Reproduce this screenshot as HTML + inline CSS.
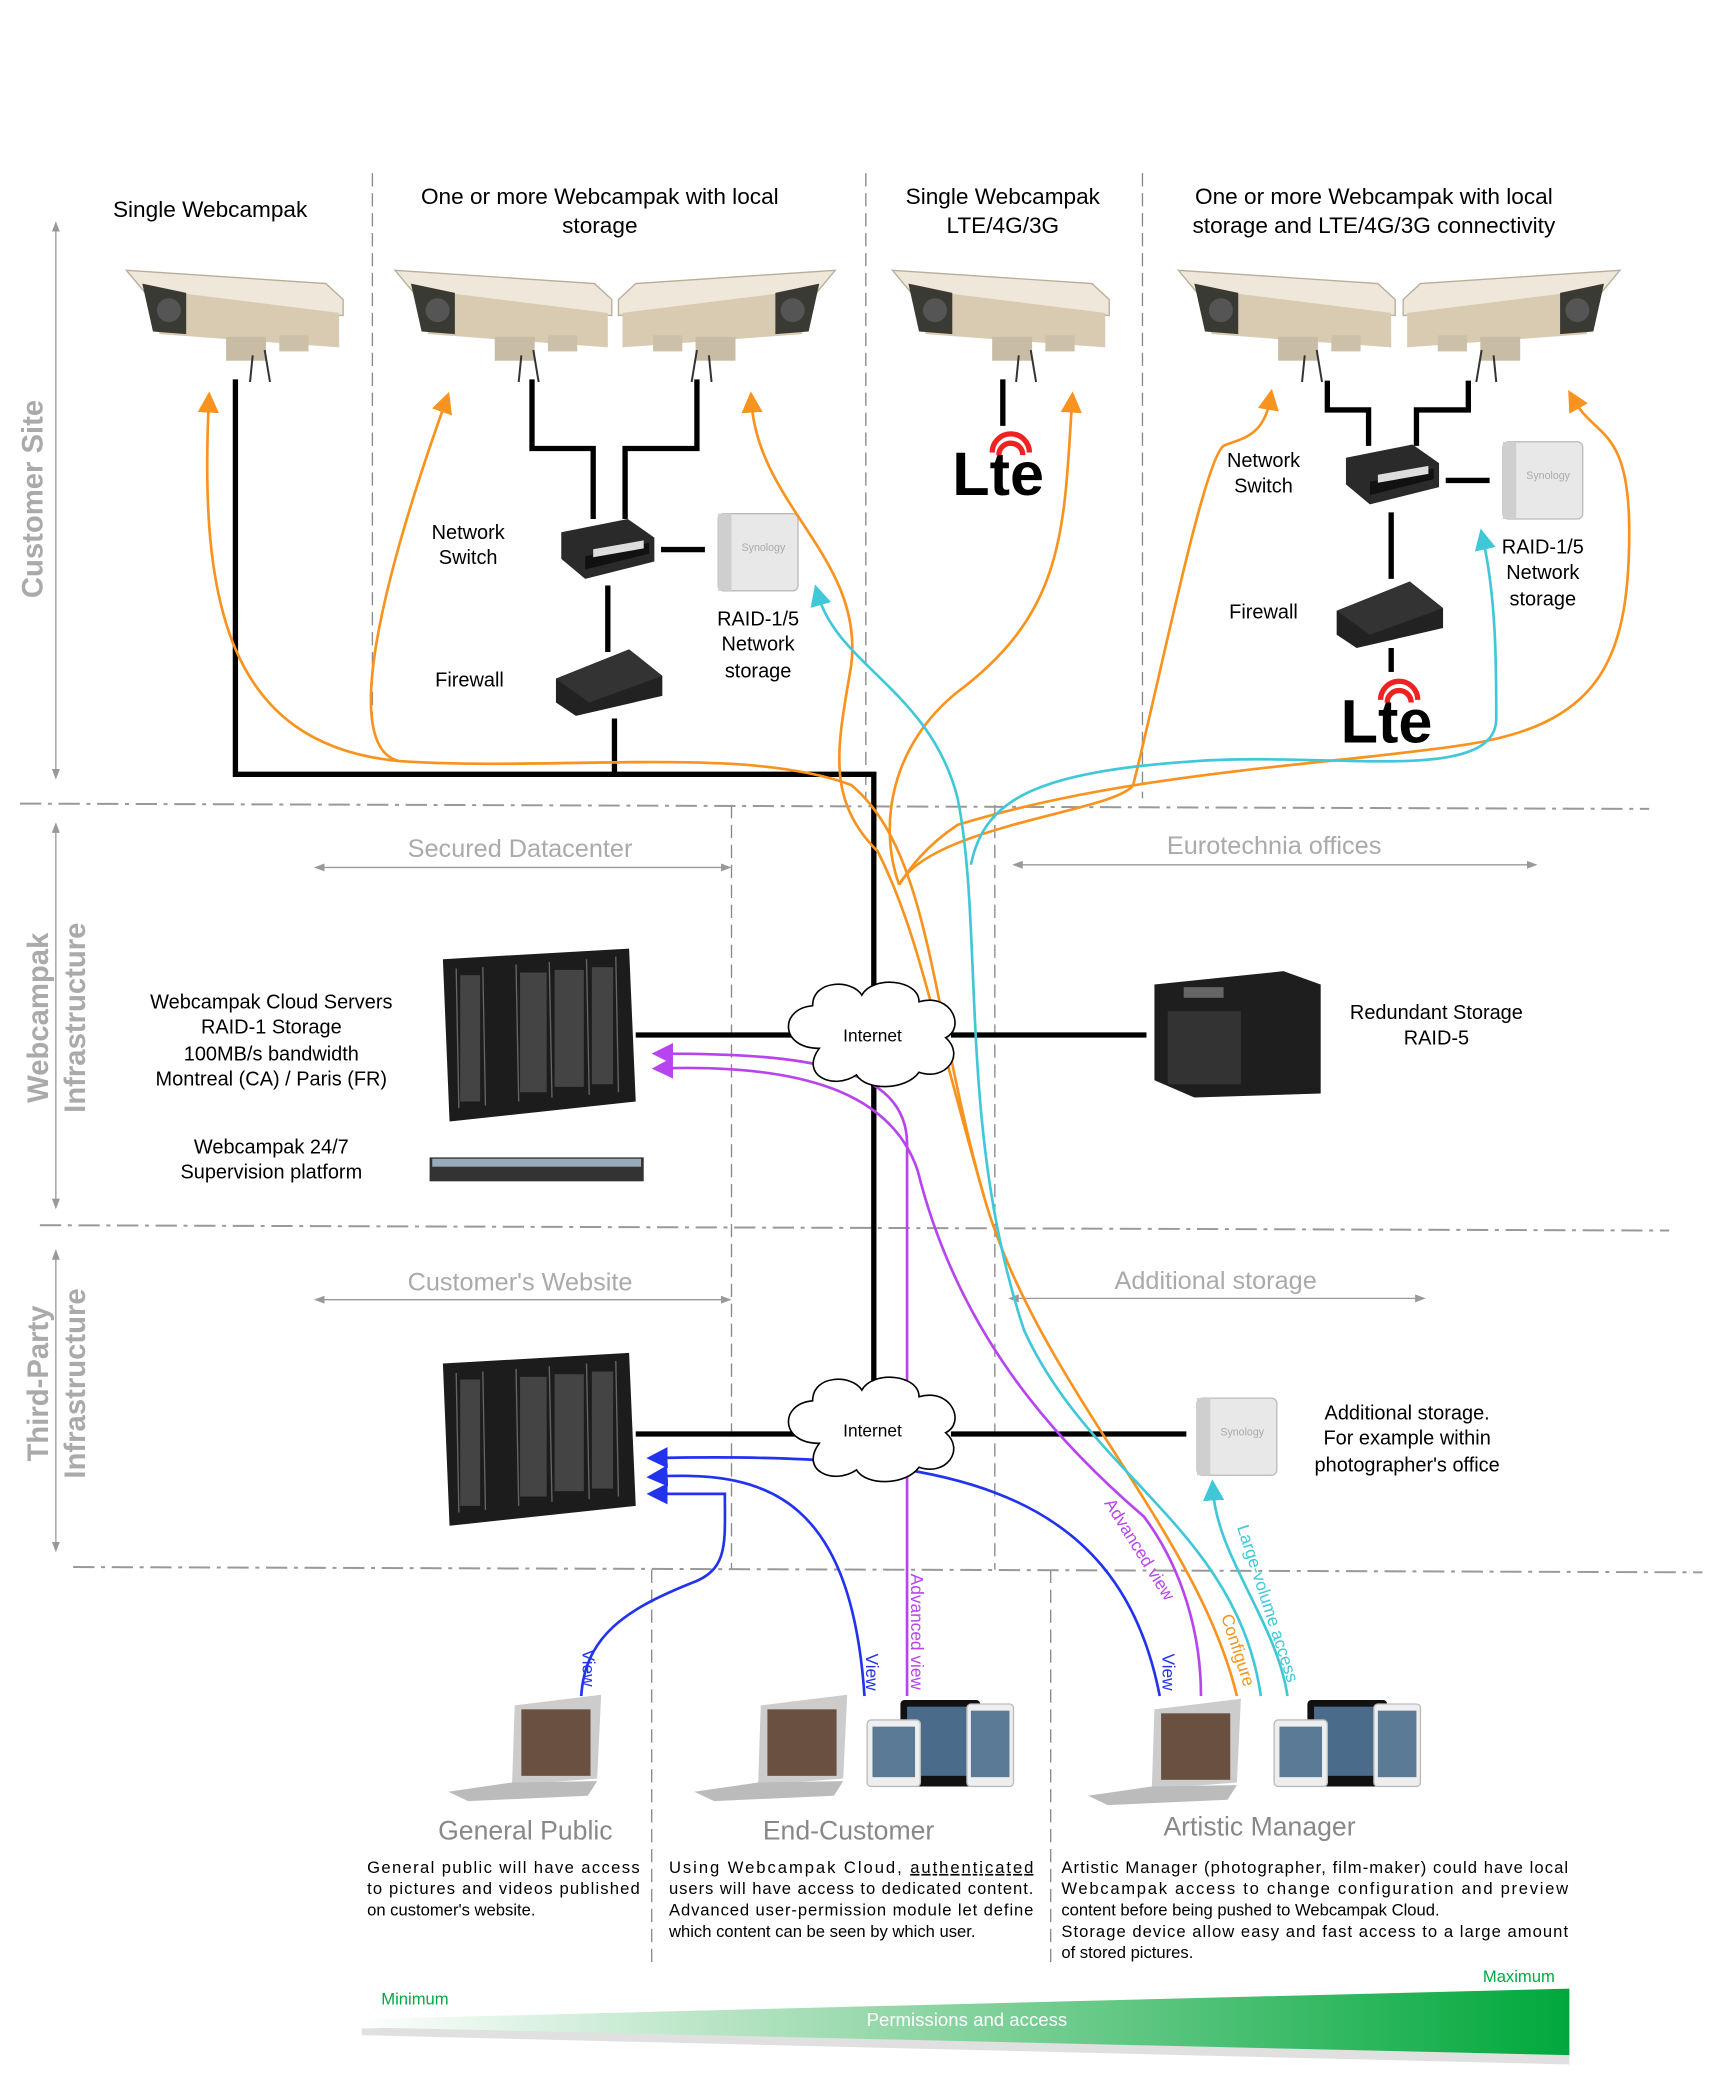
<!DOCTYPE html>
<html><head><meta charset="utf-8"><style>
html,body{margin:0;padding:0;background:#fff}
svg{display:block}
text{font-family:"Liberation Sans",sans-serif}
</style></head><body>
<svg width="1729" height="2090" viewBox="0 0 1300 1571" xmlns="http://www.w3.org/2000/svg">
<defs>
<g id="cam">
 <polygon points="0,8 150,18 163,30 163,42 20,32" fill="#efe8da" stroke="#b8ad98" stroke-width="1"/>
 <polygon points="15,22 160,40 160,66 25,56" fill="#d8cbb2"/>
 <polygon points="12,18 45,25 45,56 20,54" fill="#3a3a35"/>
 <circle cx="32" cy="38" r="9" fill="#555"/>
 <rect x="75" y="58" width="30" height="18" fill="#c8bca4"/>
 <line x1="95" y1="72" x2="93" y2="92" stroke="#333" stroke-width="1.5"/>
 <line x1="104" y1="68" x2="108" y2="92" stroke="#333" stroke-width="1.5"/>
 <rect x="115" y="57" width="22" height="12" fill="#ccc0a8"/>
</g>
<g id="sw"><polygon points="0,10 50,0 70,14 70,32 18,45 0,30" fill="#2a2a2a"/><polygon points="18,28 66,18 66,26 18,38" fill="#111"/><rect x="24" y="27" width="38" height="6" fill="#ddd" transform="skewY(-10)"/></g>
<g id="fw"><polygon points="0,22 55,0 80,20 80,35 15,50 0,40" fill="#222"/><polygon points="0,22 55,0 80,20 25,40" fill="#333"/></g>
<g id="nas"><rect x="0" y="0" width="60" height="58" rx="4" fill="#e8e8e8" stroke="#bbb"/><rect x="0" y="0" width="10" height="58" fill="#cfcfcf"/><text x="34" y="28" font-size="8" fill="#aaa" text-anchor="middle">Synology</text></g>
<g id="rack">
 <polygon points="0,8 140,0 145,115 5,130" fill="#1c1c1c"/>
 <g stroke="#666" stroke-width="1">
  <line x1="10" y1="15" x2="12" y2="120"/><line x1="30" y1="14" x2="32" y2="118"/><line x1="55" y1="12" x2="57" y2="115"/><line x1="80" y1="10" x2="82" y2="112"/><line x1="108" y1="8" x2="110" y2="110"/><line x1="130" y1="6" x2="132" y2="108"/>
 </g>
 <g fill="#444"><rect x="13" y="20" width="15" height="95"/><rect x="58" y="18" width="20" height="90"/><rect x="84" y="16" width="22" height="88"/><rect x="112" y="14" width="16" height="88"/></g>
</g>
<g id="cloud"><path d="M-40,10 C-70,10 -70,-20 -45,-22 C-45,-42 -15,-42 -8,-30 C0,-45 35,-42 35,-25 C60,-32 70,-5 55,2 C70,15 55,35 35,28 C25,42 -5,42 -12,30 C-30,42 -55,30 -40,10Z" fill="#fff" stroke="#000" stroke-width="1.2"/></g>
<g id="lap"><polygon points="50,0 115,-8 112,55 48,60" fill="#ccc"/><rect x="55" y="3" width="52" height="50" fill="#6a5040"/><polygon points="0,65 48,58 112,57 105,68 15,72" fill="#bbb"/></g>
<g id="tab"><rect x="25" y="0" width="60" height="65" rx="3" fill="#111"/><rect x="30" y="5" width="50" height="52" fill="#4a6c8a"/><rect x="0" y="15" width="40" height="50" rx="3" fill="#eee" stroke="#bbb"/><rect x="4" y="20" width="32" height="38" fill="#5a7a95"/><rect x="75" y="3" width="35" height="62" rx="3" fill="#eee" stroke="#bbb"/><rect x="78" y="8" width="29" height="50" fill="#5a7a95"/></g>
<g id="lte"><text x="0" y="50" font-size="46" font-weight="bold" fill="#000" font-family="Liberation Sans">Lte</text><path d="M30,18 a14,14 0 0 1 28,0" fill="none" stroke="#e22" stroke-width="4"/><path d="M35,20 a9,9 0 0 1 18,0" fill="none" stroke="#e22" stroke-width="4"/></g>
<linearGradient id="gr" x1="0" x2="1" y1="0" y2="0"><stop offset="0" stop-color="#fff"/><stop offset="0.4" stop-color="#9edbb0"/><stop offset="1" stop-color="#00a83c"/></linearGradient>
<marker id="ao" markerWidth="8" markerHeight="8" refX="4" refY="4" orient="auto-start-reverse"><path d="M0,0 L8,4 L0,8Z" fill="#f7931e"/></marker>
<marker id="ac" markerWidth="8" markerHeight="8" refX="4" refY="4" orient="auto-start-reverse"><path d="M0,0 L8,4 L0,8Z" fill="#40c8d8"/></marker>
<marker id="ap" markerWidth="8" markerHeight="8" refX="4" refY="4" orient="auto-start-reverse"><path d="M0,0 L8,4 L0,8Z" fill="#b844ee"/></marker>
<marker id="ab" markerWidth="8" markerHeight="8" refX="4" refY="4" orient="auto-start-reverse"><path d="M0,0 L8,4 L0,8Z" fill="#2233ee"/></marker>
<marker id="ag" markerWidth="8" markerHeight="8" refX="4" refY="4" orient="auto-start-reverse"><path d="M0,1 L8,4 L0,7Z" fill="#999"/></marker>
</defs>

<g stroke="#888" stroke-width="1" stroke-dasharray="10,5">
<line x1="280" y1="130" x2="280" y2="545"/><line x1="651" y1="130" x2="651" y2="600"/><line x1="859" y1="130" x2="859" y2="600"/>
<line x1="550" y1="605" x2="550" y2="1180"/><line x1="748" y1="605" x2="748" y2="1180"/>
<line x1="490" y1="1180" x2="490" y2="1475"/><line x1="790" y1="1180" x2="790" y2="1475"/>
</g>
<g stroke="#999" stroke-width="1.5" stroke-dasharray="16,5,3,5">
<line x1="15" y1="604" x2="1240" y2="608"/><line x1="30" y1="921" x2="1255" y2="925"/><line x1="55" y1="1178" x2="1280" y2="1182"/>
</g>
<g stroke="#999" stroke-width="1"><line x1="42" y1="170" x2="42" y2="582" marker-start="url(#ag)" marker-end="url(#ag)"/>
<line x1="42" y1="622" x2="42" y2="905" marker-start="url(#ag)" marker-end="url(#ag)"/>
<line x1="42" y1="943" x2="42" y2="1163" marker-start="url(#ag)" marker-end="url(#ag)"/>
<line x1="240" y1="652" x2="546" y2="652" marker-start="url(#ag)" marker-end="url(#ag)"/>
<line x1="765" y1="650" x2="1152" y2="650" marker-start="url(#ag)" marker-end="url(#ag)"/>
<line x1="240" y1="977" x2="546" y2="977" marker-start="url(#ag)" marker-end="url(#ag)"/>
<line x1="762" y1="976" x2="1068" y2="976" marker-start="url(#ag)" marker-end="url(#ag)"/></g>
<g fill="#aaa" font-weight="bold" font-size="22" text-anchor="middle">
<text transform="translate(32,375) rotate(-90)">Customer Site</text>
<text transform="translate(36,765) rotate(-90)">Webcampak</text>
<text transform="translate(64,765) rotate(-90)">Infrastructure</text>
<text transform="translate(36,1040) rotate(-90)">Third-Party</text>
<text transform="translate(64,1040) rotate(-90)">Infrastructure</text>
</g>
<g fill="#aaa" font-size="19" text-anchor="middle">
<text x="391" y="644">Secured Datacenter</text><text x="958" y="642">Eurotechnia offices</text>
<text x="391" y="970">Customer's Website</text><text x="914" y="969">Additional storage</text>
</g>

<g font-size="17" text-anchor="middle" fill="#000">
<text x="158" y="163">Single Webcampak</text>
<text x="451" y="153">One or more Webcampak with local</text><text x="451" y="175">storage</text>
<text x="754" y="153">Single Webcampak</text><text x="754" y="175">LTE/4G/3G</text>
<text x="1033" y="153">One or more Webcampak with local</text><text x="1033" y="175">storage and LTE/4G/3G connectivity</text>
</g>
<use href="#cam" x="95" y="195"/>
<use href="#cam" x="297" y="195"/>
<use href="#cam" transform="translate(628,195) scale(-1,1)"/>
<use href="#cam" x="671" y="195"/>
<use href="#cam" x="886" y="195"/>
<use href="#cam" transform="translate(1218,195) scale(-1,1)"/>

<g stroke="#000" stroke-width="4" fill="none">
<polyline points="177,285 177,582 657,582 657,1040"/>
<polyline points="400,285 400,337 446,337 446,390"/>
<polyline points="524,285 524,337 470,337 470,390"/>
<line x1="497" y1="413" x2="530" y2="413"/>
<line x1="457" y1="440" x2="457" y2="490"/>
<line x1="462" y1="540" x2="462" y2="582"/>
<line x1="754" y1="285" x2="754" y2="320"/>
<polyline points="998,286 998,308 1029,308 1029,335"/>
<polyline points="1104,286 1104,308 1065,308 1065,335"/>
<line x1="1087" y1="361" x2="1120" y2="361"/>
<line x1="1046" y1="385" x2="1046" y2="435"/>
<line x1="1046" y1="487" x2="1046" y2="505"/>
<line x1="478" y1="778" x2="600" y2="778"/><line x1="715" y1="778" x2="862" y2="778"/>
<line x1="478" y1="1078" x2="600" y2="1078"/><line x1="715" y1="1078" x2="892" y2="1078"/>
</g>
<use href="#sw" x="422" y="390"/><use href="#nas" x="540" y="386"/><use href="#fw" x="418" y="488"/>
<use href="#lte" x="716" y="322"/>
<use href="#sw" x="1012" y="334"/><use href="#nas" x="1130" y="332"/><use href="#fw" x="1005" y="437"/>
<use href="#lte" x="1008" y="508"/>
<g font-size="15" text-anchor="middle" fill="#000">
<text x="352" y="405">Network</text><text x="352" y="424">Switch</text><text x="353" y="516">Firewall</text>
<text x="570" y="470">RAID-1/5</text><text x="570" y="489">Network</text><text x="570" y="509">storage</text>
<text x="950" y="351">Network</text><text x="950" y="370">Switch</text><text x="950" y="465">Firewall</text>
<text x="1160" y="416">RAID-1/5</text><text x="1160" y="435">Network</text><text x="1160" y="455">storage</text>
</g>

<use href="#rack" x="333" y="713"/>
<rect x="323" y="870" width="161" height="18" fill="#333"/><rect x="325" y="871" width="157" height="6" fill="#9ab"/>
<g font-size="15" text-anchor="middle" fill="#000">
<text x="204" y="758">Webcampak Cloud Servers</text><text x="204" y="777">RAID-1 Storage</text><text x="204" y="797">100MB/s bandwidth</text><text x="204" y="816">Montreal (CA) / Paris (FR)</text>
<text x="204" y="867">Webcampak 24/7</text><text x="204" y="886">Supervision platform</text>
<text x="1080" y="766">Redundant Storage</text><text x="1080" y="785">RAID-5</text>
<text x="1058" y="1067">Additional storage.</text><text x="1058" y="1086">For example within</text><text x="1058" y="1106">photographer's office</text>
</g>
<g><polygon points="868,740 965,730 993,740 993,822 898,825 868,812" fill="#1e1e1e"/><rect x="878" y="760" width="55" height="55" fill="#333"/><rect x="890" y="742" width="30" height="8" fill="#666"/></g>
<use href="#rack" x="333" y="1017"/>
<use href="#nas" x="900" y="1051"/>

<g fill="none" stroke-width="2">
<g stroke="#f7931e">
<path d="M157,302 C150,450 170,560 300,572 C420,580 560,560 640,590 C700,640 700,760 740,900 C780,1040 900,1150 930,1275" marker-start="url(#ao)"/>
<path d="M335,302 C300,400 250,560 300,572"  marker-start="url(#ao)"/>
<path d="M565,302 C570,380 650,420 640,500 C630,560 620,600 660,640 C690,700 700,760 740,900" marker-start="url(#ao)"/>
<path d="M806,302 C800,400 800,460 720,520 C670,560 660,620 676,665" marker-start="url(#ao)"/>
<path d="M955,300 C950,330 930,330 920,335 C905,345 870,520 852,590 C840,610 700,620 676,665" marker-start="url(#ao)"/>
<path d="M1183,300 C1200,330 1225,320 1225,400 C1225,500 1200,545 1100,560 C1000,575 850,580 720,620 C690,640 680,660 676,665" marker-start="url(#ao)"/>
</g>
<g stroke="#40c8d8">
<path d="M615,447 C630,500 700,520 720,600 C740,700 720,850 770,1000 C820,1110 930,1150 948,1275" marker-start="url(#ac)"/>
<path d="M1115,405 C1125,450 1125,500 1125,540 C1125,590 1000,565 900,572 C780,580 740,600 730,650" marker-start="url(#ac)"/>
<path d="M912,1120 C915,1170 960,1220 968,1275" marker-start="url(#ac)"/>
</g>
<g stroke="#b844ee">
<path d="M498,792 C600,792 682,800 682,860 L682,1275" marker-start="url(#ap)"/>
<path d="M498,803 C600,800 670,820 690,880 C720,1000 790,1080 860,1140 C890,1180 903,1230 903,1275" marker-start="url(#ap)"/>
</g>
<g stroke="#2233ee">
<path d="M494,1123 L545,1123 C545,1160 548,1180 520,1190 C470,1210 440,1230 437,1275" marker-start="url(#ab)"/>
<path d="M494,1110 C580,1105 640,1130 650,1275" marker-start="url(#ab)"/>
<path d="M494,1096 C700,1092 840,1110 872,1275" marker-start="url(#ab)"/>
</g>
</g>
<g font-size="13">
<text transform="translate(438,1240) rotate(90)" fill="#2233ee">View</text>
<text transform="translate(651,1243) rotate(90)" fill="#2233ee">View</text>
<text transform="translate(874,1243) rotate(90)" fill="#2233ee">View</text>
<text transform="translate(685,1183) rotate(90)" fill="#b844ee">Advanced view</text>
<text transform="translate(830,1130) rotate(58)" fill="#b844ee">Advanced view</text>
<text transform="translate(918,1215) rotate(72)" fill="#f7931e">Configure</text>
<text transform="translate(930,1148) rotate(72)" fill="#40c8d8">Large-volume access</text>
</g>

<use href="#cloud" x="656" y="778"/><text x="656" y="783" font-size="13" text-anchor="middle">Internet</text>
<use href="#cloud" x="656" y="1075"/><text x="656" y="1080" font-size="13" text-anchor="middle">Internet</text>

<use href="#lap" x="337" y="1282"/>
<use href="#lap" x="522" y="1282"/><use href="#tab" x="652" y="1278"/>
<use href="#lap" x="818" y="1285"/><use href="#tab" x="958" y="1278"/>
<g font-size="20" fill="#888" text-anchor="middle">
<text x="395" y="1383">General Public</text><text x="638" y="1383">End-Customer</text><text x="947" y="1380">Artistic Manager</text>
</g>
<g font-size="12.5" fill="#000">
<text x="276" y="1408" textLength="205" lengthAdjust="spacing">General public will have access</text>
<text x="276" y="1424" textLength="205" lengthAdjust="spacing">to pictures and videos published</text>
<text x="276" y="1440">on customer's website.</text>
<text x="503" y="1408" textLength="274" lengthAdjust="spacing">Using Webcampak Cloud, <tspan text-decoration="underline">authenticated</tspan></text>
<text x="503" y="1424" textLength="274" lengthAdjust="spacing">users will have access to dedicated content.</text>
<text x="503" y="1440" textLength="274" lengthAdjust="spacing">Advanced user-permission module let define</text>
<text x="503" y="1456">which content can be seen by which user.</text>
<text x="798" y="1408" textLength="381" lengthAdjust="spacing">Artistic Manager (photographer, film-maker) could have local</text>
<text x="798" y="1424" textLength="381" lengthAdjust="spacing">Webcampak access to change configuration and preview</text>
<text x="798" y="1440">content before being pushed to Webcampak Cloud.</text>
<text x="798" y="1456" textLength="381" lengthAdjust="spacing">Storage device allow easy and fast access to a large amount</text>
<text x="798" y="1472">of stored pictures.</text>
</g>
<polygon points="272,1525 1180,1500 1180,1552 272,1530" fill="#ccc" opacity="0.6"/>
<polygon points="270,1518 1180,1495 1180,1545 270,1524" fill="url(#gr)"/>
<text x="727" y="1523" font-size="14" fill="#fff" text-anchor="middle">Permissions and access</text>
<text x="312" y="1507" font-size="12.5" fill="#00aa44" text-anchor="middle">Minimum</text>
<text x="1142" y="1490" font-size="12.5" fill="#00aa44" text-anchor="middle">Maximum</text>
</svg>
</body></html>
